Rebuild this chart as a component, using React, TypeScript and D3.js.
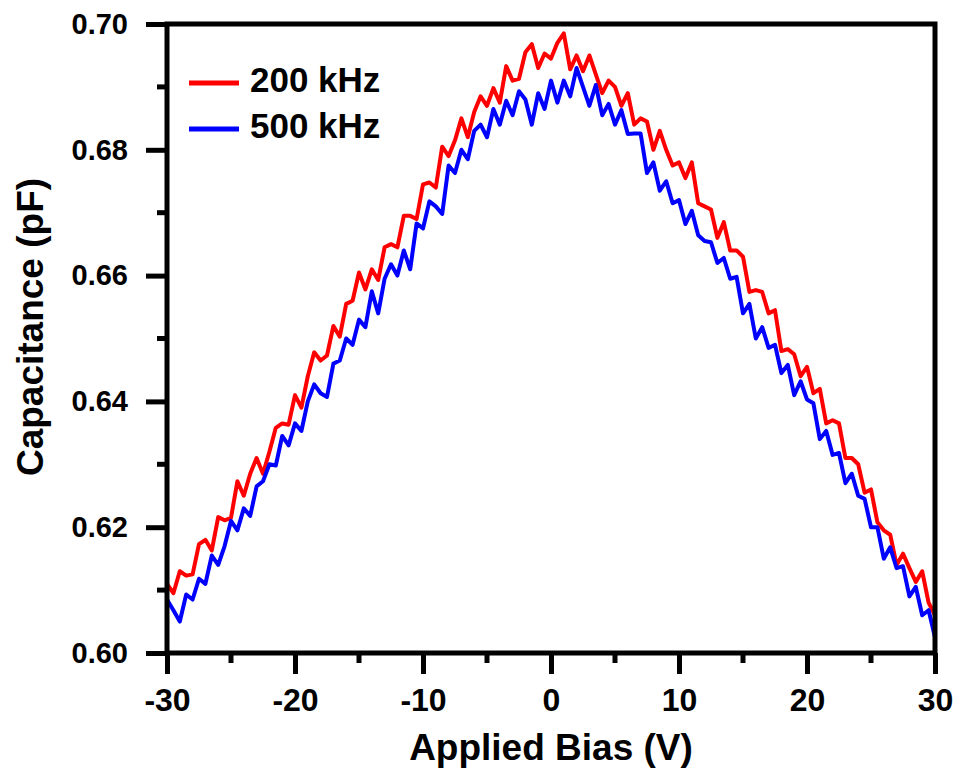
import React, { useEffect, useRef } from "react";
import * as d3 from "d3";

// bias grid, 0.5 V steps from -30 to 30
const biasV: number[] = d3.range(0, 121).map((i) => -30 + i * 0.5);

// 200 kHz (red)
const cap200: number[] = [
  0.611, 0.6095, 0.613, 0.6123, 0.6125, 0.6173, 0.618, 0.6163, 0.6216, 0.6211,
  0.6215, 0.6273, 0.625, 0.6285, 0.631, 0.6285, 0.632, 0.6358, 0.6365, 0.6363,
  0.641, 0.639, 0.644, 0.6478, 0.6465, 0.6473, 0.652, 0.6503, 0.6555, 0.656,
  0.6605, 0.6578, 0.661, 0.6593, 0.6645, 0.665, 0.6645, 0.6695, 0.6695, 0.669,
  0.6745, 0.6748, 0.674, 0.6805, 0.679, 0.6815, 0.685, 0.682, 0.686, 0.6885,
  0.687, 0.6898, 0.6875, 0.6933, 0.691, 0.6913, 0.6955, 0.6968, 0.693, 0.6953,
  0.6945, 0.697, 0.6985, 0.6928, 0.695, 0.6925, 0.695, 0.692, 0.689, 0.691,
  0.69, 0.687, 0.689, 0.684, 0.685, 0.6845, 0.68, 0.683, 0.68, 0.6775,
  0.678, 0.6755, 0.678, 0.6715, 0.671, 0.6705, 0.666, 0.6685, 0.664, 0.664,
  0.663, 0.6574, 0.6577, 0.6574, 0.654, 0.6545, 0.648, 0.6483, 0.6475, 0.644,
  0.6455, 0.6413, 0.642, 0.6365, 0.637, 0.6365, 0.631, 0.631, 0.63, 0.6255,
  0.626, 0.6208, 0.6195, 0.6188, 0.614, 0.6158, 0.6135, 0.6113, 0.613, 0.608,
  0.606,
];

// 500 kHz (blue)
const cap500: number[] = [
  0.6085, 0.6068, 0.605, 0.6093, 0.6085, 0.6118, 0.611, 0.6155, 0.614, 0.617,
  0.621, 0.6195, 0.623, 0.6218, 0.6265, 0.6273, 0.63, 0.6298, 0.6345, 0.633,
  0.6365, 0.6353, 0.64, 0.6427, 0.6413, 0.6407, 0.646, 0.6465, 0.65, 0.649,
  0.653, 0.6518, 0.6575, 0.654, 0.6595, 0.6618, 0.66, 0.664, 0.661, 0.6683,
  0.6675, 0.6718, 0.671, 0.6698, 0.6775, 0.6763, 0.68, 0.6785, 0.683, 0.684,
  0.682, 0.6865, 0.684, 0.6878, 0.6855, 0.6893, 0.688, 0.684, 0.689, 0.6865,
  0.691, 0.6875, 0.691, 0.6885, 0.693, 0.69, 0.687, 0.6903, 0.6855, 0.6873,
  0.684, 0.6863, 0.6825, 0.6826, 0.6826, 0.6763, 0.678, 0.6735, 0.675, 0.6715,
  0.672, 0.6682, 0.6703, 0.6664, 0.6655, 0.6653, 0.662, 0.6628, 0.6595, 0.6598,
  0.654, 0.6555, 0.65, 0.6518, 0.6485, 0.649, 0.6445, 0.6458, 0.641, 0.6432,
  0.6403, 0.6397, 0.634, 0.6353, 0.6315, 0.6318, 0.627, 0.6285, 0.625, 0.6245,
  0.62, 0.62, 0.615, 0.6168, 0.6135, 0.6138, 0.609, 0.6105, 0.606, 0.6068,
  0.6025,
];

const xTicks = [-30, -20, -10, 0, 10, 20, 30];
const xMinor = [-25, -15, -5, 5, 15, 25];
const yTicks = [0.6, 0.62, 0.64, 0.66, 0.68, 0.7];
const yMinor = [0.61, 0.63, 0.65, 0.67, 0.69];
const legendNames = ["200 kHz", "500 kHz"];
const colors = ["#ff0000", "#0000ff"];

const W = 956;
const H = 769;
const left = 167;
const right = 935;
const top = 24;
const bottom = 653;
const font = "'Liberation Sans', Arial, sans-serif";

export default function App() {
  const ref = useRef<SVGSVGElement>(null);

  useEffect(() => {
    const svg = d3.select(ref.current);
    svg.selectAll("*").remove();

    const x = d3.scaleLinear().domain([-30, 30]).range([left, right]);
    const y = d3.scaleLinear().domain([0.6, 0.7]).range([bottom, top]);

    const line = d3
      .line<number>()
      .x((d, i) => x(biasV[i]))
      .y((d) => y(d));

    // data lines, red first so blue lies on top
    [cap200, cap500].forEach((s, k) => {
      svg
        .append("path")
        .attr("d", line(s))
        .attr("fill", "none")
        .attr("stroke", colors[k])
        .attr("stroke-width", 4)
        .attr("stroke-linejoin", "round");
    });

    // frame
    svg
      .append("rect")
      .attr("x", left)
      .attr("y", top)
      .attr("width", right - left)
      .attr("height", bottom - top)
      .attr("fill", "none")
      .attr("stroke", "#000")
      .attr("stroke-width", 5);

    // x axis
    const xAxis = svg.append("g").attr("transform", "translate(0," + bottom + ")");
    xAxis
      .call(
        d3
          .axisBottom(x)
          .tickValues(xTicks)
          .tickFormat((d) => String(d))
          .tickSize(21)
          .tickSizeOuter(0)
          .tickPadding(14)
      )
      .call((g) => g.select(".domain").remove());
    xAxis.selectAll("line").attr("stroke", "#000").attr("stroke-width", 5);
    xAxis
      .selectAll("text")
      .attr("font-family", font)
      .attr("font-weight", "bold")
      .attr("font-size", 32)
      .attr("fill", "#000");
    xAxis
      .selectAll(".minor")
      .data(xMinor)
      .enter()
      .append("line")
      .attr("x1", (d) => x(d))
      .attr("x2", (d) => x(d))
      .attr("y1", 0)
      .attr("y2", 10)
      .attr("stroke", "#000")
      .attr("stroke-width", 5);

    // y axis
    const yAxis = svg.append("g").attr("transform", "translate(" + left + ",0)");
    yAxis
      .call(
        d3
          .axisLeft(y)
          .tickValues(yTicks)
          .tickFormat(d3.format(".2f"))
          .tickSize(21)
          .tickSizeOuter(0)
          .tickPadding(18)
      )
      .call((g) => g.select(".domain").remove());
    yAxis.selectAll("line").attr("stroke", "#000").attr("stroke-width", 5);
    yAxis
      .selectAll("text")
      .attr("font-family", font)
      .attr("font-weight", "bold")
      .attr("font-size", 29)
      .attr("fill", "#000");
    yAxis
      .selectAll(".minor")
      .data(yMinor)
      .enter()
      .append("line")
      .attr("x1", 0)
      .attr("x2", -10)
      .attr("y1", (d) => y(d))
      .attr("y2", (d) => y(d))
      .attr("stroke", "#000")
      .attr("stroke-width", 5);

    // axis titles
    svg
      .append("text")
      .attr("x", (left + right) / 2)
      .attr("y", 760)
      .attr("text-anchor", "middle")
      .attr("font-family", font)
      .attr("font-weight", "bold")
      .attr("font-size", 37)
      .text("Applied Bias (V)");

    svg
      .append("text")
      .attr("transform", "translate(43," + 327 + ") rotate(-90)")
      .attr("text-anchor", "middle")
      .attr("font-family", font)
      .attr("font-weight", "bold")
      .attr("font-size", 37)
      .text("Capacitance (pF)");

    // legend
    legendNames.forEach((name, k) => {
      const ly = 83 + k * 46;
      svg
        .append("line")
        .attr("x1", 189)
        .attr("x2", 239)
        .attr("y1", ly)
        .attr("y2", ly)
        .attr("stroke", colors[k])
        .attr("stroke-width", 5);
      svg
        .append("text")
        .attr("x", 250)
        .attr("y", ly + 9)
        .attr("font-family", font)
        .attr("font-weight", "bold")
        .attr("font-size", 35)
        .text(name);
    });
  }, []);

  return (
    <svg
      ref={ref}
      width={W}
      height={H}
      style={{ position: "absolute", left: 0, top: 0, background: "#fff" }}
    />
  );
}
